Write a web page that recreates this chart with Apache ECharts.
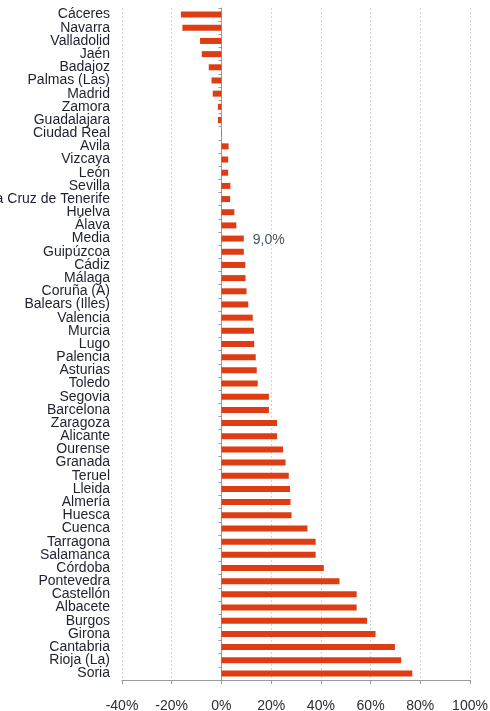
<!DOCTYPE html>
<html>
<head>
<meta charset="utf-8">
<script src="https://cdn.jsdelivr.net/npm/echarts@6/dist/echarts.min.js"></script>
<style>
html,body{margin:0;padding:0;background:#fff;}
#chart{width:490px;height:711px;}
</style>
</head>
<body>
<div id="chart"></div>
<script>
var categories = ["Cáceres","Navarra","Valladolid","Jaén","Badajoz","Palmas (Las)","Madrid","Zamora","Guadalajara","Ciudad Real","Avila","Vizcaya","León","Sevilla","Santa Cruz de Tenerife","Huelva","Álava","Media","Guipúzcoa","Cádiz","Málaga","Coruña (A)","Balears (Illes)","Valencia","Murcia","Lugo","Palencia","Asturias","Toledo","Segovia","Barcelona","Zaragoza","Alicante","Ourense","Granada","Teruel","Lleida","Almería","Huesca","Cuenca","Tarragona","Salamanca","Córdoba","Pontevedra","Castellón","Albacete","Burgos","Girona","Cantabria","Rioja (La)","Soria"];
var values = [-16.3,-15.7,-8.6,-7.9,-5.1,-4.0,-3.5,-1.4,-1.4,0.2,2.9,2.7,2.7,3.6,3.5,5.2,6.0,9.0,9.0,9.6,9.7,10.1,10.8,12.6,13.1,13.2,13.8,14.2,14.6,19.1,19.1,22.4,22.4,24.8,25.8,27.1,27.6,27.8,28.2,34.6,37.9,37.9,41.2,47.5,54.4,54.4,58.6,62.0,69.8,72.3,76.8];
var xTicks = {min: -40, max: 100, interval: 20};
var labelledCategory = "Media";

var seriesData = values.map(function (v, i) {
  if (categories[i] === labelledCategory) {
    return {
      value: v,
      label: {
        show: true,
        position: 'right',
        distance: 9,
        offset: [0, 2],
        formatter: function (p) { return p.value.toFixed(1).replace('.', ',') + '%'; },
        fontFamily: 'Liberation Sans, Arial, sans-serif',
        fontSize: 14,
        color: '#4a5360'
      }
    };
  }
  return v;
});

var chart = echarts.init(document.getElementById('chart'), null, {renderer: 'canvas'});
chart.setOption({
  animation: false,
  backgroundColor: '#ffffff',
  grid: {left: 122, right: 20, top: 8, bottom: 31, containLabel: false, outerBoundsMode: 'none'},
  xAxis: {
    type: 'value',
    min: xTicks.min,
    max: xTicks.max,
    interval: xTicks.interval,
    axisLine: {show: true, lineStyle: {color: '#9a9a9a', width: 1}},
    axisTick: {show: true, length: 4, lineStyle: {color: '#9a9a9a'}},
    axisLabel: {
      formatter: '{value}%',
      fontFamily: 'Liberation Sans, Arial, sans-serif',
      fontSize: 14,
      color: '#2a2d38',
      margin: 19
    },
    splitLine: {show: true, lineStyle: {color: '#d4d4d4', type: [2, 2], width: 1}}
  },
  yAxis: [
    {
      type: 'category',
      inverse: true,
      data: categories,
      axisLine: {show: false, onZero: false},
      axisTick: {show: false},
      axisLabel: {
        fontFamily: 'Liberation Sans, Arial, sans-serif',
        fontSize: 14,
        color: '#1d2030',
        margin: 12,
        interval: 0,
        padding: [2, 0, 0, 0]
      },
      splitLine: {show: false}
    },
    {
      type: 'category',
      inverse: true,
      position: 'left',
      data: categories,
      axisLine: {show: true, onZero: true, lineStyle: {color: '#9a9a9a', width: 1}},
      axisTick: {show: true, length: 3, interval: 0, lineStyle: {color: '#9a9a9a'}},
      axisLabel: {show: false},
      splitLine: {show: false}
    }
  ],
  series: [{
    type: 'bar',
    yAxisIndex: 0,
    data: seriesData,
    barWidth: 6,
    itemStyle: {color: '#de3c12'},
    label: {show: false}
  }]
});
</script>
</body>
</html>
